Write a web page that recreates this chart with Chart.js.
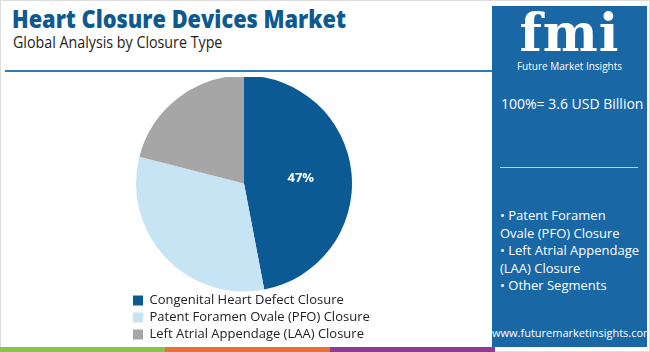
<!DOCTYPE html>
<html>
<head>
<meta charset="utf-8">
<script src="https://cdn.jsdelivr.net/npm/chart.js@4.4.0/dist/chart.umd.min.js"></script>
<style>
  html, body { margin: 0; padding: 0; }
  body { width: 650px; height: 352px; position: relative; overflow: hidden; background: #fff; font-family: "Open Sans", sans-serif; }
  .frame { position: absolute; left: 0; top: 0; width: 648px; height: 350px; border: 1px solid #ddd; }
  .title { position: absolute; left: 12px; top: 1px; font-size: 25px; font-weight: 800; color: #0e5a90; white-space: nowrap; transform: scaleX(0.87); transform-origin: left top; }
  .sub { position: absolute; left: 13px; top: 31px; font-size: 15.5px; color: #222; white-space: nowrap; transform: scaleX(0.92); transform-origin: left top; }
  .rule { position: absolute; left: 5px; top: 70px; width: 490px; height: 2px; background: #2f7ab8; }
  .panel { position: absolute; left: 492px; top: 6px; width: 155px; height: 341px; background: #1a67a6; color: #fff; }
  .logo { position: absolute; left: 0; width: 155px; text-align: center; top: 0px; font-family: "DejaVu Serif", serif; font-weight: bold; font-size: 52px; line-height: 54px; letter-spacing: 1px; }
  .logo-sub { position: absolute; left: 0; width: 155px; text-align: center; top: 53px; font-size: 10px; }
  .total { position: absolute; left: 9px; top: 88px; font-size: 14px; white-space: nowrap; }
  .hr { position: absolute; left: 8px; top: 161px; width: 138px; height: 1px; background: #b9d3ea; }
  .list { position: absolute; left: 8px; top: 201px; font-size: 13px; line-height: 17.5px; }
  .url { position: absolute; left: 0; width: 155px; text-align: center; top: 319px; font-size: 11px; }
  .strip { position: absolute; top: 347px; height: 5px; }
  #box { position: absolute; left: 129px; top: 77px; width: 250px; height: 274px; }
</style>
</head>
<body>
<div class="frame"></div>
<div class="title">Heart Closure Devices Market</div>
<div class="sub">Global Analysis by Closure Type</div>
<div class="rule"></div>
<div class="strip" style="left:0;width:165px;background:#8bc34a"></div>
<div class="strip" style="left:165px;width:165px;background:#e8703a"></div>
<div class="strip" style="left:330px;width:165px;background:#8e3a96"></div>
<div class="panel">
  <div class="logo">fmi</div>
  <div class="logo-sub">Future Market Insights</div>
  <div class="total">100%= 3.6 USD Billion</div>
  <div class="hr"></div>
  <div class="list">• Patent Foramen<br>Ovale (PFO) Closure<br>• Left Atrial Appendage<br>(LAA) Closure<br>• Other Segments</div>
  <div class="url">www.futuremarketinsights.com</div>
</div>
<div id="box"><canvas id="myChart" width="250" height="274"></canvas></div>
<script>
// dados do grafico
var categorias = ["Congenital Heart Defect Closure", "Patent Foramen Ovale (PFO) Closure", "Left Atrial Appendage (LAA) Closure"];
var valores = [47, 32, 21];
var rotulos = ["47%", "", ""];
var cores = ["#0b5a93", "#c7e4f4", "#a6a6a6"];

// escreve o percentual dentro da fatia
var rotuloPlugin = {
  id: "rotuloPlugin",
  afterLayout: function (chart) {
    // puxa a pizza um pouco para a esquerda, a legenda fica onde esta
    chart.chartArea.right -= 20;
    chart.chartArea.width -= 20;
  },
  afterDatasetsDraw: function (chart) {
    var ctx = chart.ctx;
    var meta = chart.getDatasetMeta(0);
    ctx.save();
    ctx.fillStyle = "#fff";
    ctx.font = "bold 13px 'Open Sans'";
    ctx.textAlign = "center";
    ctx.textBaseline = "middle";
    meta.data.forEach(function (arc, i) {
      if (!rotulos[i]) return;
      var p = arc.tooltipPosition();
      ctx.fillText(rotulos[i], p.x + 3, p.y);
    });
    ctx.restore();
  },
};

var ctx = document.getElementById("myChart");
var myChart = new Chart(ctx, {
  type: "pie",
  data: {
    labels: categorias,
    datasets: [
      {
        data: valores,
        backgroundColor: cores,
        borderWidth: 0,
        radius: 108,
        clip: false,
      },
    ],
  },
  options: {
    responsive: false,
    animation: false,
    plugins: {
      legend: {
        position: "bottom",
        align: "start",
        labels: {
          boxWidth: 10,
          boxHeight: 10,
          padding: 4,
          color: "#222",
          font: { size: 13, family: "'Open Sans'" },
        },
      },
      tooltip: { enabled: false },
    },
  },
  plugins: [rotuloPlugin],
});
</script>
</body>
</html>
